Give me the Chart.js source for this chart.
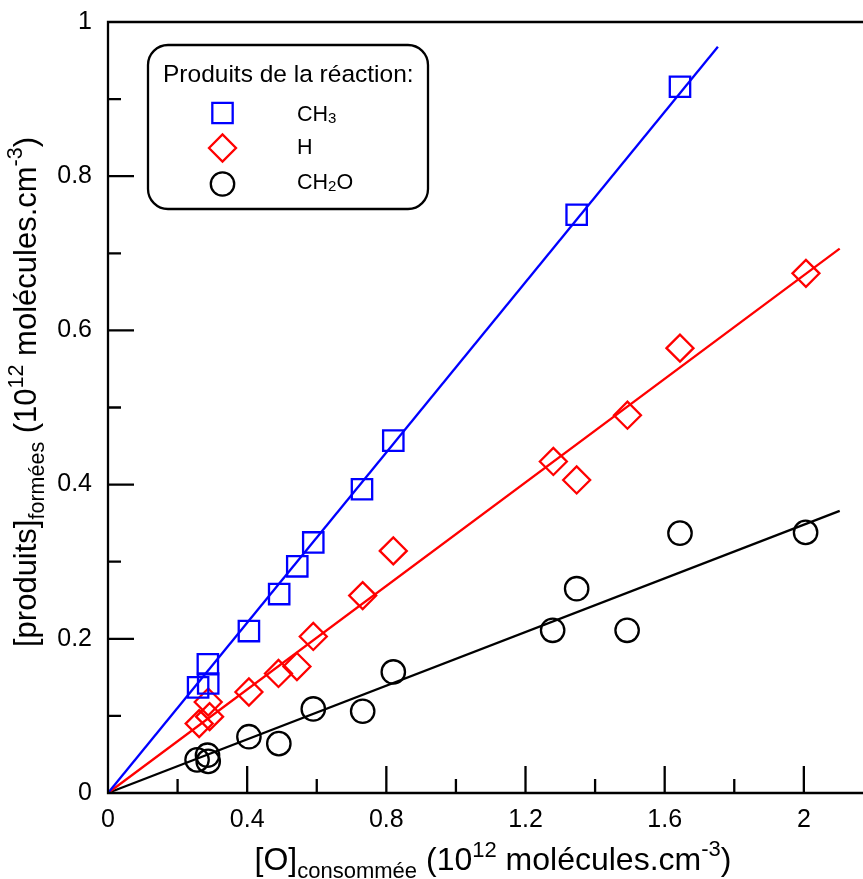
<!DOCTYPE html>
<html><head><meta charset="utf-8">
<script src="https://cdn.jsdelivr.net/npm/chart.js@4/dist/chart.umd.min.js"></script>
<style>html,body{margin:0;padding:0;background:#fff;overflow:hidden}#wrap{width:863px;height:879px}</style>
</head><body><div id="wrap"><canvas id="c" width="863" height="879"></canvas></div>
<script>
// ---- data ----
const ch3X  = [0.259, 0.288, 0.287, 0.405, 0.492, 0.544, 0.590, 0.730, 0.820, 1.347, 1.644];
const ch3Y  = [0.137, 0.142, 0.167, 0.210, 0.258, 0.294, 0.325, 0.394, 0.457, 0.750, 0.916];
const hX    = [0.262, 0.292, 0.288, 0.405, 0.490, 0.543, 0.590, 0.732, 0.820, 1.280, 1.347, 1.493, 1.644, 2.006];
const hY    = [0.090, 0.099, 0.118, 0.131, 0.155, 0.164, 0.203, 0.256, 0.314, 0.430, 0.406, 0.490, 0.577, 0.674];
const ch2oX = [0.256, 0.286, 0.288, 0.405, 0.491, 0.590, 0.732, 0.820, 1.278, 1.347, 1.492, 1.644, 2.005];
const ch2oY = [0.043, 0.049, 0.041, 0.073, 0.064, 0.109, 0.106, 0.157, 0.211, 0.265, 0.211, 0.337, 0.338];
// fitted lines (end points)
const ch3FitX  = [0, 1.753], ch3FitY  = [0, 0.968];
const hFitX    = [0, 2.103], hFitY    = [0, 0.706];
const ch2oFitX = [0, 2.103], ch2oFitY = [0, 0.366];
// ticks
const xTickLabels = [0, 0.4, 0.8, 1.2, 1.6, 2];
const xMinorTicks = [0.2, 0.6, 1.0, 1.4, 1.8];
const yTickLabels = [0, 0.2, 0.4, 0.6, 0.8, 1];
const yMinorTicks = [0.1, 0.3, 0.5, 0.7, 0.9];
const legendTitle = 'Produits de la réaction:';
const seriesNames = [['CH', '3', ''], ['H', '', ''], ['CH', '2', 'O']];

const FONT = '"Liberation Sans", Arial, Helvetica, sans-serif';
const LW = 2.3;
const zip = (xs, ys) => xs.map((v, i) => ({x: v, y: ys[i]}));

function drawRich(ctx, parts, x, y, align) {
  let w = 0;
  parts.forEach(p => { ctx.font = p.size + 'px ' + FONT; p.w = ctx.measureText(p.t).width; w += p.w; });
  let cx = align === 'center' ? x - w / 2 : x;
  ctx.textBaseline = 'alphabetic'; ctx.textAlign = 'left';
  parts.forEach(p => { ctx.font = p.size + 'px ' + FONT; ctx.fillText(p.t, cx, y + (p.dy || 0)); cx += p.w; });
}

const axesPlugin = {
  id: 'axesDeco',
  afterDatasetsDraw(chart) {
    const {ctx, chartArea: a, scales: {x, y}} = chart;
    ctx.save();
    ctx.strokeStyle = '#000'; ctx.lineWidth = LW; ctx.lineCap = 'butt';
    ctx.beginPath();
    ctx.moveTo(a.right, a.top); ctx.lineTo(a.left, a.top); ctx.lineTo(a.left, a.bottom); ctx.lineTo(a.right, a.bottom);
    xTickLabels.forEach(v => { const p = x.getPixelForValue(v); ctx.moveTo(p, a.bottom); ctx.lineTo(p, a.bottom - 27); });
    xMinorTicks.forEach(v => { const p = x.getPixelForValue(v); ctx.moveTo(p, a.bottom); ctx.lineTo(p, a.bottom - 14); });
    yTickLabels.forEach(v => { const p = y.getPixelForValue(v); ctx.moveTo(a.left, p); ctx.lineTo(a.left + 26, p); });
    yMinorTicks.forEach(v => { const p = y.getPixelForValue(v); ctx.moveTo(a.left, p); ctx.lineTo(a.left + 13, p); });
    ctx.stroke();
    ctx.restore();
  },
  afterDraw(chart) {
    const {ctx} = chart;
    ctx.save();
    ctx.fillStyle = '#000';
    // x title
    drawRich(ctx, [
      {t: '[O]', size: 32}, {t: 'consommée', size: 22, dy: 8}, {t: ' (10', size: 32},
      {t: '12', size: 22, dy: -13}, {t: ' molécules.cm', size: 32}, {t: '-3', size: 22, dy: -14}, {t: ')', size: 32}
    ], 493, 870, 'center');
    // y title
    ctx.save();
    ctx.translate(36, 392); ctx.rotate(-Math.PI / 2);
    drawRich(ctx, [
      {t: '[produits]', size: 31}, {t: 'formées', size: 21.5, dy: 8}, {t: ' (10', size: 31},
      {t: '12', size: 21.5, dy: -13}, {t: ' molécules.cm', size: 31}, {t: '-3', size: 21.5, dy: -14}, {t: ')', size: 31}
    ], 0, 0, 'center');
    ctx.restore();
    // legend box
    const L = 148, T = 45, R = 428, B = 209, rad = 20;
    ctx.lineWidth = LW; ctx.strokeStyle = '#000';
    ctx.beginPath();
    ctx.moveTo(L + rad, T); ctx.arcTo(R, T, R, B, rad); ctx.arcTo(R, B, L, B, rad);
    ctx.arcTo(L, B, L, T, rad); ctx.arcTo(L, T, R, T, rad); ctx.closePath();
    ctx.fillStyle = '#fff'; ctx.fill(); ctx.stroke();
    ctx.fillStyle = '#000';
    ctx.font = '24.5px ' + FONT; ctx.textBaseline = 'alphabetic'; ctx.textAlign = 'left';
    ctx.fillText(legendTitle, 163, 82);
    const ds = chart.data.datasets;
    const rows = [113, 148, 184];
    const baselines = [120.7, 154, 189];
    rows.forEach((ry, i) => {
      const d = ds[i];
      ctx.strokeStyle = d.borderColor; ctx.lineWidth = LW;
      ctx.beginPath();
      const r = d.pointRadius, mx = 222.5;
      if (d.pointStyle === 'rect') { const s = r * Math.SQRT1_2; ctx.rect(mx - s, ry - s, 2 * s, 2 * s); }
      else if (d.pointStyle === 'rectRot') { ctx.moveTo(mx - r, ry); ctx.lineTo(mx, ry - r); ctx.lineTo(mx + r, ry); ctx.lineTo(mx, ry + r); ctx.closePath(); }
      else { ctx.arc(mx, ry, r, 0, Math.PI * 2); }
      ctx.stroke();
      ctx.fillStyle = '#000';
      const n = seriesNames[i];
      drawRich(ctx, [{t: n[0], size: 21.5}, {t: n[1], size: 15, dy: 2}, {t: n[2], size: 21.5}], 297, baselines[i], 'left');
    });
    ctx.restore();
  }
};

const ptDs = (label, xs, ys, color, style, r) => ({
  label, data: zip(xs, ys), showLine: false, pointStyle: style, pointRadius: r, pointHoverRadius: r,
  pointBorderWidth: LW, pointBorderColor: color, pointBackgroundColor: 'rgba(0,0,0,0)', borderColor: color, clip: false
});
const lineDs = (xs, ys, color) => ({
  data: zip(xs, ys), showLine: true, pointRadius: 0, borderColor: color, borderWidth: LW, fill: false, clip: false
});
const zeroPad = s => { s.paddingTop = 0; s.paddingBottom = 0; s.paddingLeft = 0; s.paddingRight = 0; };

new Chart(document.getElementById('c'), {
  type: 'scatter',
  data: {
    datasets: [
      ptDs('CH3', ch3X, ch3Y, '#0000ff', 'rect', 14.4),
      ptDs('H', hX, hY, '#ff0000', 'rectRot', 13.5),
      ptDs('CH2O', ch2oX, ch2oY, '#000000', 'circle', 11.7),
      lineDs(ch3FitX, ch3FitY, '#0000ff'),
      lineDs(hFitX, hFitY, '#ff0000'),
      lineDs(ch2oFitX, ch2oFitY, '#000000')
    ]
  },
  options: {
    responsive: false, animation: false, devicePixelRatio: 1,
    layout: {autoPadding: false, padding: {top: 22, right: 0, left: 0, bottom: 0}},
    plugins: {legend: {display: false}, tooltip: {enabled: false}, title: {display: false}},
    scales: {
      x: {
        type: 'linear', min: 0, max: 2.17,
        grid: {display: false, drawTicks: false}, border: {display: false},
        afterBuildTicks: s => { s.ticks = xTickLabels.map(v => ({value: v})); },
        afterFit: s => { s.height = 86; zeroPad(s); },
        ticks: {padding: 12, color: '#000', font: {family: FONT, size: 25}, maxRotation: 0, autoSkip: false, callback: v => String(v)}
      },
      y: {
        type: 'linear', min: 0, max: 1,
        grid: {display: false, drawTicks: false}, border: {display: false},
        afterBuildTicks: s => { s.ticks = yTickLabels.map(v => ({value: v})); },
        afterFit: s => { s.width = 108; zeroPad(s); },
        ticks: {padding: 16, color: '#000', font: {family: FONT, size: 25}, autoSkip: false, callback: v => String(v)}
      }
    }
  },
  plugins: [axesPlugin]
});
</script>
</body></html>
